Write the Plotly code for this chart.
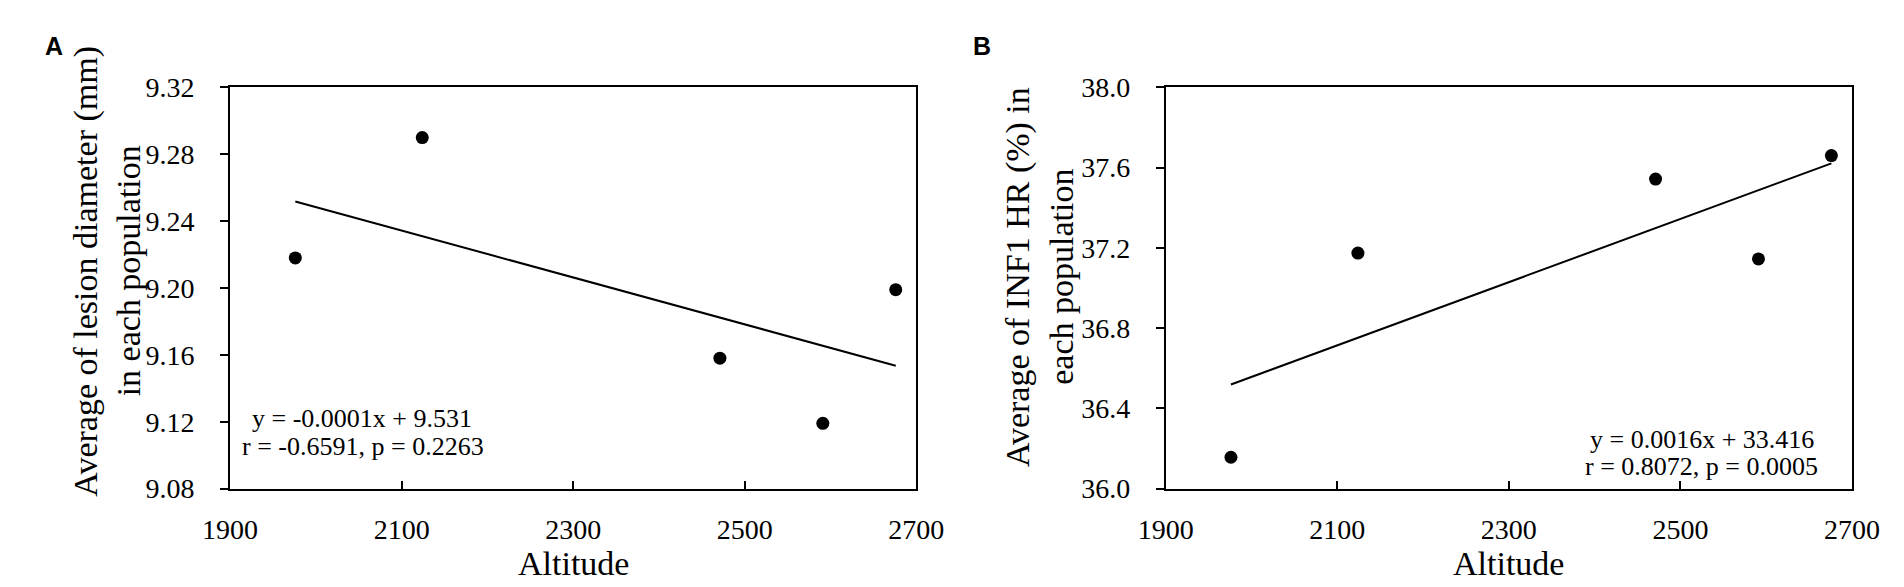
import numpy as np
import plotly.graph_objects as go

# ---- data ----
altitude = [1976, 2124, 2471, 2591, 2676]
lesion_diameter = [9.218, 9.290, 9.158, 9.119, 9.199]
inf1_hr = [36.156, 37.174, 37.543, 37.145, 37.660]

x_ticks = [1900, 2100, 2300, 2500, 2700]
a_ticks = [9.08, 9.12, 9.16, 9.20, 9.24, 9.28, 9.32]
b_ticks = [36.0, 36.4, 36.8, 37.2, 37.6, 38.0]

a_eq = ["y = -0.0001x + 9.531", "r = -0.6591, p = 0.2263"]
b_eq = ["y = 0.0016x + 33.416", "r = 0.8072, p = 0.0005"]

a_ytitle = ["Average of lesion diameter (mm)", "in each population"]
b_ytitle = ["Average of INF1 HR (%) in", "each population"]
x_title = "Altitude"

W, H = 1904, 587
SERIF = "Liberation Serif, Times New Roman, serif"


def px_x(p):
    return p / W


def px_y(p):
    return (H - p) / H


fig = go.Figure()


def add_panel(xs, ys, xa, ya):
    fig.add_trace(go.Scatter(x=xs, y=ys, mode="markers", xaxis=xa, yaxis=ya,
                             marker=dict(color="black", size=13),
                             showlegend=False, hoverinfo="x+y"))
    k, b = np.polyfit(xs, ys, 1)
    lx = [min(xs), max(xs)]
    ly = [k * v + b for v in lx]
    fig.add_trace(go.Scatter(x=lx, y=ly, mode="lines", xaxis=xa, yaxis=ya,
                             line=dict(color="black", width=2),
                             showlegend=False, hoverinfo="skip"))


add_panel(altitude, lesion_diameter, "x", "y")
add_panel(altitude, inf1_hr, "x2", "y2")

ydom = [px_y(491.5), px_y(68)]
common_x = dict(range=[1900, 2700], tickvals=x_ticks, ticks="inside", ticklen=8,
                tickwidth=2, tickcolor="black", showline=True, linewidth=2,
                linecolor="black", mirror=True, showgrid=False, zeroline=False,
                tickfont=dict(family=SERIF, size=28, color="black"),
                ticklabelstandoff=15)
common_y = dict(ticks="outside", ticklen=8, tickwidth=2, tickcolor="black",
                showline=True, linewidth=2, linecolor="black", mirror=True,
                showgrid=False, zeroline=False,
                tickfont=dict(family=SERIF, size=28, color="black"),
                ticklabelstandoff=20)

fig.update_layout(
    width=W, height=H,
    margin=dict(l=0, r=0, t=0, b=0),
    paper_bgcolor="white", plot_bgcolor="white",
    showlegend=False,
    xaxis=dict(domain=[px_x(200), px_x(907)], anchor="y", **common_x),
    yaxis=dict(domain=ydom, anchor="x", range=[9.08, 9.32], tickvals=a_ticks,
               tickformat=".2f", **common_y),
    xaxis2=dict(domain=[px_x(1164), px_x(1871)], anchor="y2", **common_x),
    yaxis2=dict(domain=ydom, anchor="x2", range=[36.0, 38.0], tickvals=b_ticks,
                tickformat=".1f", **common_y),
)

ann = []


def txt(x, y, s, size, angle=0, family=SERIF, bold=False):
    ann.append(dict(xref="paper", yref="paper", x=px_x(x), y=px_y(y),
                    xanchor="center", yanchor="middle", showarrow=False,
                    text=("<b>%s</b>" % s) if bold else s, textangle=angle,
                    font=dict(family=family, size=size, color="black")))


# panel letters
txt(19, 24, "A", 25, family="Liberation Sans, Arial, sans-serif", bold=True)
txt(975, 24, "B", 25, family="Liberation Sans, Arial, sans-serif", bold=True)

# equations
txt(336, 418, a_eq[0], 26)
txt(337, 447, a_eq[1], 26)
txt(1716, 440, b_eq[0], 26)
txt(1716, 468, b_eq[1], 26)

# y titles
txt(52, 262, a_ytitle[0], 34, angle=-90)
txt(95, 262, a_ytitle[1], 34, angle=-90)
txt(1012, 268, b_ytitle[0], 34, angle=-90)
txt(1057, 268, b_ytitle[1], 34, angle=-90)

# x titles
txt(553.5, 571, x_title, 34)
txt(1517.5, 571, x_title, 34)

fig.update_layout(annotations=ann)
fig.write_html("out.html")
